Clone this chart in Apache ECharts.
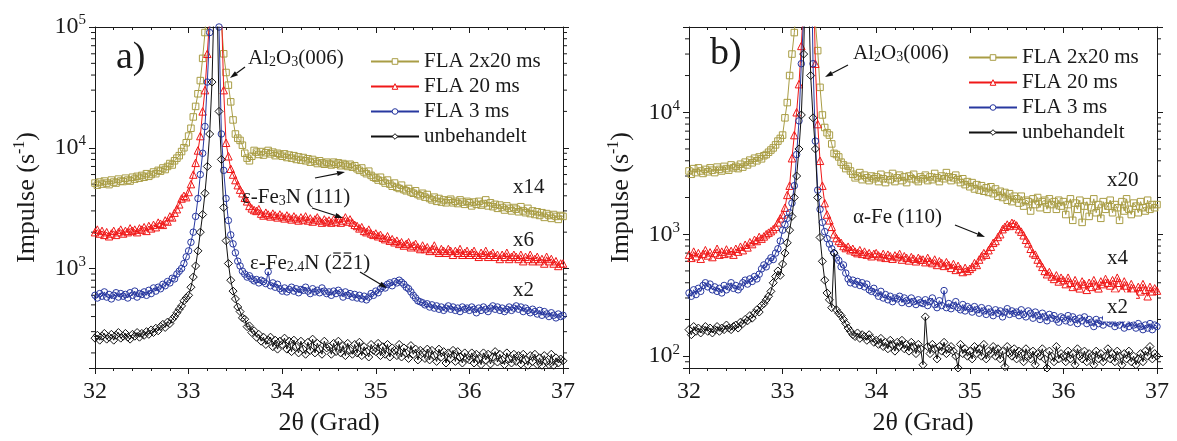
<!DOCTYPE html>
<html><head><meta charset="utf-8">
<script src="https://cdn.jsdelivr.net/npm/echarts@6/dist/echarts.min.js"></script>
<style>html,body{margin:0;padding:0;background:#fff}#c{width:1177px;height:441px}</style>
</head><body><div id="c"></div>
<script>
// ---------- data ----------
const X_START = 32, X_STEP = 0.025;          // 2theta sampling grid (201 samples, 32..37)
const xTicks = [32, 33, 34, 35, 36, 37];
const seriesNames = ['FLA 2x20 ms', 'FLA 20 ms', 'FLA 3 ms', 'unbehandelt'];

// panel a)
const aOlive = [5100,4900,5200,5000,5300,5100,4950,5400,5200,5100,5500,5300,5250,5600,5400,5300,5700,5500,5800,5600,
5900,5700,6100,5800,6000,6300,6100,6500,6400,6800,6600,7000,7400,7200,7800,8200,8600,9300,10000,11000,
12500,14500,18000,22000,28000,36000,55000,90000,180000,400000,800000,1000000,800000,300000,110000,60000,42000,33000,24000,17000,
13000,12000,11500,10500,9000,8200,7800,8500,9500,9200,8800,9300,8700,9100,9500,8900,9200,8600,9000,8800,
8500,8900,8300,8700,8200,8600,8000,8400,7900,8300,7800,8100,7600,8000,7700,7400,7800,7500,7300,7600,
7400,7200,7600,7300,7500,7100,7400,7200,7000,7300,6900,7100,6700,6500,6800,6300,6100,6400,5900,5700,
5600,5400,5700,5300,5100,5400,5000,4800,5100,4700,4600,4900,4500,4400,4600,4300,4200,4400,4100,4000,
4200,3900,4100,3800,3700,3900,3600,3800,3550,3700,3500,3650,3750,3500,3600,3450,3700,3550,3400,3600,
3500,3300,3550,3400,3600,3350,3450,3700,3300,3500,3250,3400,3150,3350,3200,3050,3300,3150,3000,3200,
3100,2950,3250,3000,2900,3150,2850,3000,2800,2950,2750,2900,2650,2850,2750,2600,2800,2700,2550,2750,
2700];
const aRed = [2000,2100,1950,2050,1900,2000,1850,1950,2050,1900,2000,2100,1950,2050,2000,2150,2050,2100,2000,2150,
2100,2200,2050,2250,2150,2300,2200,2400,2350,2300,2500,2450,2700,2650,2900,3100,3400,3800,4000,3900,
4300,5000,6000,7500,9500,12500,20000,30000,60000,120000,300000,600000,800000,500000,150000,30000,11000,8500,6700,6000,
5400,4900,4500,4200,3850,3600,3300,3150,3050,3000,3100,2850,2750,2900,2800,2700,2850,2750,2650,2800,
2700,2600,2750,2650,2550,2700,2600,2500,2650,2550,2700,2500,2600,2450,2550,2650,2500,2400,2550,2450,
2500,2400,2550,2450,2600,2400,2500,2650,2450,2550,2400,2300,2250,2150,2200,2050,2000,2100,1950,1900,
1950,1850,1900,1800,1750,1850,1700,1750,1650,1700,1600,1650,1550,1600,1650,1500,1550,1600,1500,1450,
1550,1450,1500,1400,1450,1550,1400,1350,1450,1400,1350,1450,1400,1300,1400,1350,1450,1300,1350,1400,
1300,1350,1400,1300,1250,1350,1300,1400,1250,1300,1350,1250,1300,1200,1300,1250,1350,1200,1250,1300,
1250,1200,1300,1150,1250,1200,1300,1150,1200,1250,1150,1200,1100,1250,1150,1200,1100,1150,1050,1100,
1100];
const aBlue = [600,570,620,590,640,580,610,560,600,630,580,620,590,610,570,630,600,650,580,620,
610,640,600,660,620,690,650,700,680,740,720,780,760,830,820,900,950,1000,1100,1250,
1400,1650,2000,2700,3800,6000,9000,15000,35000,90000,250000,600000,700000,100000,13000,6500,3800,2500,1900,1600,
1350,1150,1050,950,900,850,870,820,790,810,760,800,780,750,940,720,760,700,740,680,
650,690,640,670,700,650,680,630,670,660,700,650,620,680,640,660,630,690,650,620,
640,600,650,620,660,630,580,640,600,620,580,610,570,600,560,590,550,580,620,600,
650,630,680,710,690,740,760,720,780,760,800,770,740,700,680,640,600,570,540,530,
520,500,510,480,500,470,490,460,480,450,470,490,460,480,450,470,440,480,460,470,
450,480,460,430,470,450,480,460,440,470,490,460,480,450,470,440,460,480,450,470,
490,460,480,440,470,450,430,460,440,420,450,410,440,420,400,430,410,390,420,400,
410];
const aBlack = [265,280,255,275,290,260,270,285,255,280,295,265,275,290,270,260,285,275,295,270,
290,280,300,285,310,295,320,305,330,345,325,360,350,380,400,430,460,490,540,570,
600,700,850,1050,1400,2000,2800,4200,7000,13000,35000,200000,300000,20000,8000,3200,1700,1100,800,650,
560,480,440,390,380,330,335,295,305,270,285,250,270,235,255,270,225,255,215,250,
235,265,215,250,205,255,225,200,250,215,195,245,210,260,200,240,215,195,250,220,
225,195,240,205,250,200,230,190,240,210,195,235,200,245,190,225,205,185,235,210,
205,240,190,225,195,235,185,220,210,190,235,185,220,200,180,230,195,215,175,210,
200,180,215,175,210,190,170,215,185,205,165,200,180,210,170,205,185,165,200,180,
175,200,165,195,180,160,200,175,195,162,185,205,168,195,175,160,200,178,165,195,
170,190,162,195,175,158,190,170,195,160,182,158,190,170,160,195,158,182,165,178,
172];

// panel b)
const bOlive = [3300,3100,3450,3200,3500,3300,3150,3400,3250,3500,3350,3200,3550,3400,3300,3600,3450,3350,3700,3500,
3600,3450,3750,3550,3900,3700,4050,3850,4200,4000,4300,4150,4400,4500,4700,4900,5100,5400,5800,6100,
6500,9000,12000,20000,30000,45000,80000,200000,500000,900000,1000000,900000,500000,150000,55000,32000,16000,9500,7500,6800,
6500,5500,4600,4500,4300,3900,3700,3450,3600,3300,3100,2900,3000,3200,2800,3050,2900,2750,3000,2850,
2950,2700,3100,2850,2650,3000,2800,3150,2700,2900,3050,2750,2950,2650,3000,2850,3100,2800,2700,2950,
2850,3050,2750,2950,2800,3150,2900,2700,3000,2850,3200,2950,2750,2900,3050,2800,2650,2850,2550,2700,
2450,2650,2350,2550,2300,2500,2250,2400,2200,2450,2150,2350,2050,2250,2000,2200,1900,2150,1850,2050,
1950,1800,2050,1700,1900,1850,1550,1950,1750,2000,1650,1850,1900,1600,1950,1750,1850,1600,1900,1700,
1850,1450,1750,1950,1300,1800,1600,1900,1250,1700,1850,1400,1650,1950,1500,1750,1350,1850,1600,1700,
1900,1500,1750,1650,1300,1850,1550,1950,1600,1450,1800,1700,1500,1850,1650,1550,1900,1600,1750,1650,
1750];
const bRed = [680,640,720,660,700,630,690,740,670,710,650,700,760,680,720,690,750,700,730,680,
760,720,790,740,820,780,860,830,900,880,950,920,960,1000,1030,1060,1100,1150,1250,1350,
1450,1650,2100,2500,4200,6500,10000,17000,35000,80000,200000,500000,600000,200000,25000,8000,4000,2500,1800,1450,
1300,1150,1000,930,880,850,800,770,790,740,760,720,700,740,690,720,680,700,660,690,
700,670,650,690,640,680,660,630,670,650,690,620,660,640,610,650,630,600,640,620,
620,590,640,600,580,620,560,600,580,550,590,560,530,570,510,550,520,490,530,500,
520,540,580,560,620,660,700,680,740,790,850,880,950,1000,1100,1150,1200,1170,1240,1220,
1180,1100,1050,980,900,840,760,700,680,620,580,540,500,470,490,450,430,460,410,440,
420,390,440,400,370,420,380,360,410,390,350,400,370,420,380,360,410,390,430,400,
380,420,360,440,400,350,410,380,330,390,360,320,370,340,390,350,310,370,340,360,
345];
const bBlue = [330,310,350,320,360,340,380,400,370,390,350,370,340,360,330,380,350,370,400,360,
380,350,370,400,420,390,430,410,450,430,470,520,560,540,600,640,620,700,760,880,
1080,1200,1350,1500,1800,2500,4500,8500,25000,60000,150000,400000,500000,25000,5800,2300,1600,1250,1050,920,
830,760,700,640,610,540,560,480,430,400,420,390,410,380,400,370,390,350,340,360,
330,310,340,300,320,290,310,280,300,295,310,275,300,285,270,300,280,265,290,275,
270,290,260,280,300,265,250,285,260,345,250,270,245,260,280,250,240,265,235,255,
245,230,255,240,225,250,235,220,245,230,215,240,225,235,210,230,245,220,235,225,
230,215,240,220,210,235,225,205,230,215,200,225,210,195,220,205,215,200,190,210,
205,195,215,190,210,200,185,205,195,210,185,200,190,175,200,185,195,180,205,190,
185,195,175,190,180,200,170,185,175,190,180,170,185,175,165,180,170,185,165,180,
175];
const bBlack = [165,150,175,160,170,155,165,175,160,170,155,165,175,160,170,165,180,170,165,175,
180,170,190,185,200,195,215,205,225,240,230,260,270,290,310,340,400,450,500,460,
570,700,850,1080,1400,2000,3000,5000,9500,30000,200000,120000,20000,9000,5000,2000,940,600,420,330,
290,250,700,240,225,215,200,185,170,160,150,145,155,140,150,145,135,150,140,130,
135,125,140,120,130,115,135,125,110,130,120,135,115,125,110,130,120,105,125,115,
85,210,120,105,125,115,95,120,110,130,105,115,120,110,100,80,125,105,115,100,
110,95,120,105,115,100,125,95,110,105,120,100,115,95,110,82,120,105,100,115,
95,110,105,90,115,100,95,110,85,105,100,115,95,80,110,100,90,120,95,105,
100,90,110,95,105,85,115,100,95,110,90,105,100,85,110,95,105,90,100,115,
95,105,90,110,100,85,105,95,110,90,100,85,95,105,90,110,100,120,95,105,
100];

const panelA = [aOlive, aRed, aBlue, aBlack];
const panelB = [bOlive, bRed, bBlue, bBlack];
const yRangeA = [150, 100000];
const yRangeB = [80, 50000];
const minorA = [200,300,400,500,600,700,800,900,2000,3000,4000,5000,6000,7000,8000,9000,20000,30000,40000,50000,60000,70000,80000,90000];
const minorB = [90,200,300,400,500,600,700,800,900,2000,3000,4000,5000,6000,7000,8000,9000,20000,30000,40000];

// ---------- style ----------
const FONT = '"Liberation Serif", "DejaVu Serif", serif';
const TXT = '#1a1a1a';
const AX = '#1a1a1a';
const colors = ['#A99D45', '#F01818', '#2838A0', '#111111'];
const symbols = ['rect', 'triangle', 'circle', 'diamond'];
const symSizes = [6.5, 7.5, 6.5, 8];
const XMIN = xTicks[0], XMAX = xTicks[xTicks.length - 1];

function toPairs(arr) { return arr.map((v, i) => [+(X_START + i * X_STEP).toFixed(3), v]); }

function powLabel(v) {
  const e = Math.log10(v), r = Math.round(e);
  if (Math.abs(e - r) > 1e-6) return '';
  return '{b|10}{s|' + r + '}';
}
const powRich = {
  b: { fontSize: 24, fontFamily: FONT, color: TXT, lineHeight: 28 },
  s: { fontSize: 15, fontFamily: FONT, color: TXT, verticalAlign: 'top', lineHeight: 12 }
};

const grids = [
  { left: 95, top: 27, width: 468, height: 345 },
  { left: 689, top: 27, width: 468, height: 345 }
];

function bottomX(gi) {
  return {
    type: 'value', gridIndex: gi, min: XMIN, max: XMAX, interval: 1, position: 'bottom',
    name: '2θ (Grad)', nameLocation: 'middle', nameGap: 42,
    nameTextStyle: { fontSize: 26, fontFamily: FONT, color: TXT },
    axisLine: { show: true, onZero: false, lineStyle: { color: AX, width: 1 } },
    axisTick: { show: true, inside: false, length: 6, lineStyle: { color: AX } },
    minorTick: { show: true, splitNumber: 5, length: 3, lineStyle: { color: AX } },
    axisLabel: { fontSize: 24, fontFamily: FONT, color: TXT, margin: 12 },
    splitLine: { show: false }
  };
}
function topX(gi) {
  return {
    type: 'value', gridIndex: gi, min: XMIN, max: XMAX, interval: 1, position: 'top',
    axisLine: { show: true, onZero: false, lineStyle: { color: AX, width: 1 } },
    axisTick: { show: true, inside: true, length: 6, lineStyle: { color: AX } },
    minorTick: { show: true, splitNumber: 5, length: 3, lineStyle: { color: AX } },
    axisLabel: { show: false }, splitLine: { show: false }
  };
}
function leftY(gi, range) {
  return {
    type: 'log', logBase: 10, gridIndex: gi, min: range[0], max: range[1], position: 'left',
    name: '{n|Impulse (s}{s|-1}{n|)}', nameLocation: 'middle', nameGap: 53,
    nameTextStyle: { rich: {
      n: { fontSize: 26, fontFamily: FONT, color: TXT, lineHeight: 30 },
      s: { fontSize: 16, fontFamily: FONT, color: TXT, verticalAlign: 'top', lineHeight: 14 } } },
    axisLine: { show: true, onZero: false, lineStyle: { color: AX, width: 1 } },
    axisTick: { show: true, inside: false, length: 6, lineStyle: { color: AX } },
    axisLabel: { formatter: powLabel, rich: powRich, margin: 9 },
    splitLine: { show: false }
  };
}
function rightY(gi, range) {
  return {
    type: 'log', logBase: 10, gridIndex: gi, min: range[0], max: range[1], position: 'right',
    axisLine: { show: true, onZero: false, lineStyle: { color: AX, width: 1 } },
    axisTick: { show: true, inside: false, length: 6, lineStyle: { color: AX } },
    axisLabel: { show: false }, splitLine: { show: false }
  };
}

function lineSeries(gi, k, arr) {
  return {
    type: 'line', name: seriesNames[k], xAxisIndex: gi, yAxisIndex: gi,
    data: toPairs(arr), symbol: symbols[k], symbolSize: symSizes[k], showSymbol: true,
    clip: true, z: 3 + k,
    lineStyle: { color: colors[k], width: 1 },
    itemStyle: { color: 'rgba(255,255,255,0)', borderColor: colors[k], borderWidth: 1 },
    emphasis: { disabled: true }
  };
}
function minorSeries(gi, vals) {
  return {
    type: 'custom', xAxisIndex: gi, yAxisIndex: gi, silent: true, z: 1, clip: false,
    data: vals.map(v => [XMIN, v]), encode: { x: 0, y: 1 },
    renderItem(params, api) {
      const v = api.value(1);
      const l = api.coord([XMIN, v]), r = api.coord([XMAX, v]);
      return { type: 'group', children: [
        { type: 'line', shape: { x1: l[0] - 4, y1: l[1], x2: l[0], y2: l[1] }, style: { stroke: AX, lineWidth: 1 } },
        { type: 'line', shape: { x1: r[0], y1: r[1], x2: r[0] + 4, y2: r[1] }, style: { stroke: AX, lineWidth: 1 } }
      ] };
    }
  };
}

// ---------- annotations ----------
const subRich = {
  n: { fontSize: 21, fontFamily: FONT, fill: TXT, lineHeight: 22 },
  d: { fontSize: 14, fontFamily: FONT, fill: TXT, verticalAlign: 'bottom', lineHeight: 8 }
};
function txt(x, y, text, size, extra) {
  return Object.assign({ type: 'text', x: x, y: y, z: 100,
    style: { text: text, fontSize: size || 21, fontFamily: FONT, fill: TXT, align: 'left', verticalAlign: 'middle' } }, extra || {});
}
function rtxt(x, y, text) {
  return { type: 'text', x: x, y: y, z: 100,
    style: { text: text, rich: subRich, fontSize: 21, fontFamily: FONT, fill: TXT, align: 'left', verticalAlign: 'middle' } };
}
function arrow(x1, y1, x2, y2) {
  const a = Math.atan2(y2 - y1, x2 - x1), L = 8, W = 2.6;
  const bx = x2 - L * Math.cos(a), by = y2 - L * Math.sin(a);
  const px = -Math.sin(a) * W, py = Math.cos(a) * W;
  return [
    { type: 'line', z: 100, shape: { x1: x1, y1: y1, x2: bx, y2: by }, style: { stroke: '#111', lineWidth: 1.2 } },
    { type: 'polygon', z: 100, shape: { points: [[x2, y2], [bx + px, by + py], [bx - px, by - py]] }, style: { fill: '#111' } }
  ];
}
// overbars for the Miller indices (2-bar 2-bar 1)
const mctx = document.createElement('canvas').getContext('2d');
function tw(s, size) { mctx.font = size + 'px ' + FONT; return mctx.measureText(s).width; }
const FE24_X = 250, FE24_Y = 263;
const barX0 = FE24_X + tw('ε-Fe', 21) + tw('2.4', 14) + tw('N (', 21);
const w2 = tw('2', 21);
const overbars = [0, 1].map(j => ({ type: 'line', z: 100,
  shape: { x1: barX0 + j * w2 + 1.5, y1: FE24_Y - 10, x2: barX0 + (j + 1) * w2 - 1.5, y2: FE24_Y - 10 },
  style: { stroke: TXT, lineWidth: 1.2 } }));

const al2o3 = '{n|Al}{d|2}{n|O}{d|3}{n|(006)}';
const graphics = [].concat(
  [txt(116, 58, 'a)', 38),
   rtxt(248, 58, al2o3),
   rtxt(242, 197, '{n|ε-Fe}{d|3}{n|N (111)}'),
   rtxt(FE24_X, FE24_Y, '{n|ε-Fe}{d|2.4}{n|N (221)}'),
   txt(513, 187, 'x14'), txt(513, 240, 'x6'), txt(513, 290, 'x2')],
  overbars,
  arrow(245, 67, 230, 78),
  arrow(315, 178, 345, 172),
  arrow(312, 208, 343, 218),
  arrow(360, 272, 387, 288),
  [txt(710, 54, 'b)', 38),
   rtxt(853, 53, al2o3),
   txt(853, 217, 'α-Fe (110)'),
   txt(1107, 180, 'x20'), txt(1107, 258, 'x4'),
   txt(1103, 307, 'x2', 21, { style: { text: 'x2', fontSize: 21, fontFamily: FONT, fill: TXT, align: 'left', verticalAlign: 'middle', backgroundColor: '#fff', padding: [4, 8, 4, 4] } })],
  arrow(848, 65, 825, 77),
  arrow(955, 225, 985, 237)
);

const legendData = seriesNames.map((n, k) => ({ name: n, itemStyle: { color: '#fff', borderColor: colors[k], borderWidth: 1 } }));
const legendBase = {
  orient: 'vertical', itemWidth: 48, itemHeight: 7, itemGap: 4, selectedMode: false,
  data: legendData,
  textStyle: { fontSize: 21, fontFamily: FONT, color: TXT }
};

const option = {
  animation: false,
  backgroundColor: '#fff',
  grid: grids,
  xAxis: [bottomX(0), bottomX(1), topX(0), topX(1)],
  yAxis: [leftY(0, yRangeA), leftY(1, yRangeB), rightY(0, yRangeA), rightY(1, yRangeB)],
  legend: [Object.assign({ left: 365, top: 46 }, legendBase), Object.assign({ left: 963, top: 42 }, legendBase)],
  series: [].concat(
    panelA.map((arr, k) => lineSeries(0, k, arr)),
    panelB.map((arr, k) => lineSeries(1, k, arr)),
    [minorSeries(0, minorA), minorSeries(1, minorB)]
  ),
  graphic: graphics
};
const chart = echarts.init(document.getElementById('c'), null, { renderer: 'canvas' });
chart.setOption(option);
</script></body></html>
